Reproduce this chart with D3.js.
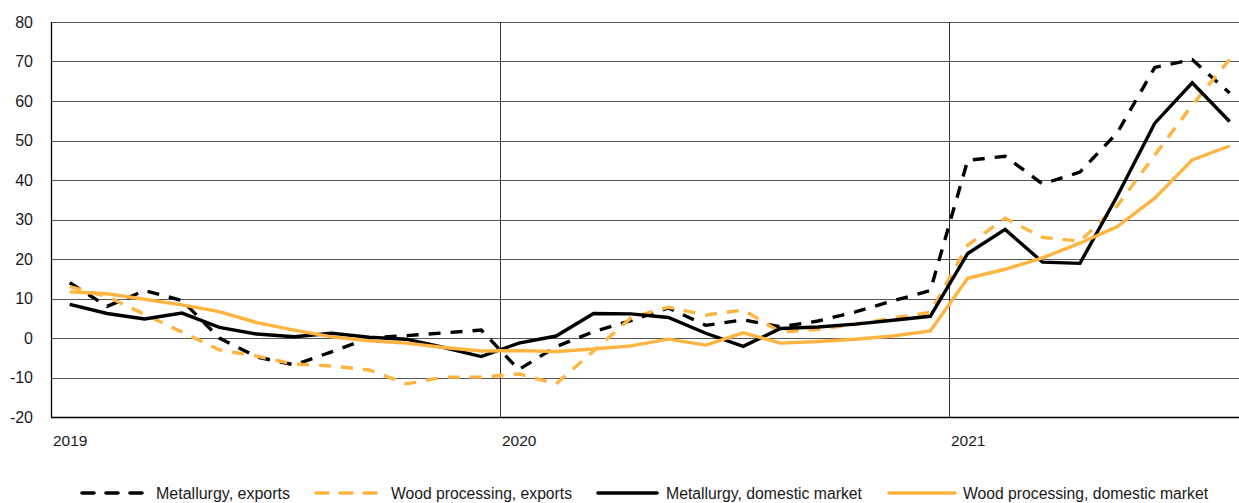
<!DOCTYPE html>
<html><head><meta charset="utf-8">
<script src="https://cdn.jsdelivr.net/npm/d3@7"></script>
<style>
html,body{margin:0;padding:0;background:#fff;}
svg{display:block;font-family:"Liberation Sans",Arial,sans-serif;}
</style></head>
<body><svg id="c" width="1239" height="503"></svg>
<script>
const months = ["2019-01","2019-02","2019-03","2019-04","2019-05","2019-06","2019-07","2019-08","2019-09","2019-10","2019-11","2019-12",
"2020-01","2020-02","2020-03","2020-04","2020-05","2020-06","2020-07","2020-08","2020-09","2020-10","2020-11","2020-12",
"2021-01","2021-02","2021-03","2021-04","2021-05","2021-06","2021-07","2021-08"];
const yearLabels = ["2019","2020","2021"];
const yearStarts = ["2019-01","2020-01","2021-01"];
const yTicks = [-20,-10,0,10,20,30,40,50,60,70,80];

const metallurgyExports = [14, 8, 12, 9.5, 0, -4.8, -6.8, -3.5, 0, 0.6, 1.3, 2, -8, -2.2, 1.6, 4.4, 7.6, 3.2, 4.6, 2.8, 4.3, 6.6, 9.4, 12, 45, 46, 39, 42, 52, 68.5, 70.5, 62];
const woodExports = [13, 10.5, 6, 1.5, -3, -4.6, -6.6, -7.1, -8.1, -11.6, -9.9, -9.9, -9.1, -11.6, -3.3, 5.1, 7.8, 5.8, 7.1, 1.5, 2.2, 3.5, 5, 6.5, 23.5, 30.3, 25.5, 24.5, 33.5, 46.3, 59, 70.5];
const metallurgyDomestic = [8.5, 6.2, 4.8, 6.3, 2.7, 1.0, 0.3, 1.2, 0.2, -0.3, -2.4, -4.7, -1.3, 0.5, 6.2, 6.1, 5.2, 1.2, -2.1, 2.4, 2.8, 3.5, 4.5, 5.5, 21.4, 27.5, 19.2, 18.9, 36, 54.4, 64.6, 54.8];
const woodDomestic = [11.7, 11.2, 9.8, 8.4, 6.7, 3.9, 2.0, 0.3, -0.7, -1.3, -2.4, -3.3, -3.2, -3.4, -2.8, -2.0, -0.3, -1.8, 1.3, -1.3, -0.9, -0.3, 0.5, 1.8, 15.1, 17.4, 20.3, 24.0, 28.2, 35.4, 45.1, 48.6];

const seriesNames = ["Metallurgy, exports","Wood processing, exports","Metallurgy, domestic market","Wood processing, domestic market"];
const seriesValues = [metallurgyExports, woodExports, metallurgyDomestic, woodDomestic];
const seriesColors = ["#000000","#FDB441","#000000","#FDB441"];
const seriesDashed = [true, true, false, false];

const svg = d3.select("#c");
const pLeft = 51, pTop = 22, pBottom = 417, monthW = 449/12;
const x = d3.scaleBand().domain(months).range([pLeft, pLeft + months.length*monthW]).paddingInner(0).paddingOuter(0);
const y = d3.scaleLinear().domain([-20,80]).range([pBottom, pTop]);
const cx = m => x(m) + x.bandwidth()/2;

// horizontal gridlines
svg.append("g").selectAll("line").data(yTicks.filter(t=>t>-20)).join("line")
  .attr("x1", pLeft).attr("x2", 1239).attr("y1", d=>Math.round(y(d))+0.5).attr("y2", d=>Math.round(y(d))+0.5)
  .attr("stroke", "#555").attr("stroke-width", 1);
// vertical year lines
svg.append("g").selectAll("line").data(yearStarts.slice(1)).join("line")
  .attr("x1", d=>Math.round(x(d))+0.5).attr("x2", d=>Math.round(x(d))+0.5).attr("y1", pTop).attr("y2", pBottom)
  .attr("stroke", "#333").attr("stroke-width", 1);
// axes lines
svg.append("line").attr("x1", pLeft+0.5).attr("x2", pLeft+0.5).attr("y1", pTop).attr("y2", pBottom+0.5).attr("stroke","#000").attr("stroke-width",1.3);
svg.append("line").attr("x1", pLeft).attr("x2", 1239).attr("y1", pBottom+0.5).attr("y2", pBottom+0.5).attr("stroke","#000").attr("stroke-width",1.3);

// y labels
svg.append("g").selectAll("text").data(yTicks).join("text")
  .attr("x", 33).attr("y", d=>y(d)).attr("dy","0.36em").attr("text-anchor","end")
  .attr("font-size", 16).attr("fill","#1a1a1a").text(d=>d);
// x labels
svg.append("g").selectAll("text").data(yearStarts).join("text")
  .attr("x", d=>x(d)+2).attr("y", 446).attr("font-size", 15.5).attr("fill","#1a1a1a")
  .text((d,i)=>yearLabels[i]);

// lines
const line = d3.line().x((d,i)=>cx(months[i])).y(d=>y(d));
seriesValues.forEach((vals,k)=>{
  svg.append("path").datum(vals).attr("d", line)
    .attr("fill","none").attr("stroke", seriesColors[k]).attr("stroke-width", 3.4)
    .attr("stroke-linejoin","miter")
    .attr("stroke-dasharray", seriesDashed[k] ? "12,10" : null);
});

// legend
const legX = [80, 314, 596, 887];
const legW = [70, 70, 63, 70];
const legTextX = [156, 391, 666, 963];
const legTextW = [134, 181, 196, 245];
const legY = 493;
seriesNames.forEach((n,k)=>{
  svg.append("line").attr("x1", legX[k]+2).attr("x2", legX[k]+legW[k]-2).attr("y1", legY).attr("y2", legY)
    .attr("stroke", seriesColors[k]).attr("stroke-width", 3.6)
    .attr("stroke-linecap", "round")
    .attr("stroke-dasharray", seriesDashed[k] ? "12,12" : null);
  svg.append("text").attr("x", legTextX[k]).attr("y", legY).attr("dy","0.36em")
    .attr("font-size", 16).attr("fill","#1a1a1a")
    .attr("textLength", legTextW[k]).attr("lengthAdjust","spacingAndGlyphs").text(n);
});
</script></body></html>
